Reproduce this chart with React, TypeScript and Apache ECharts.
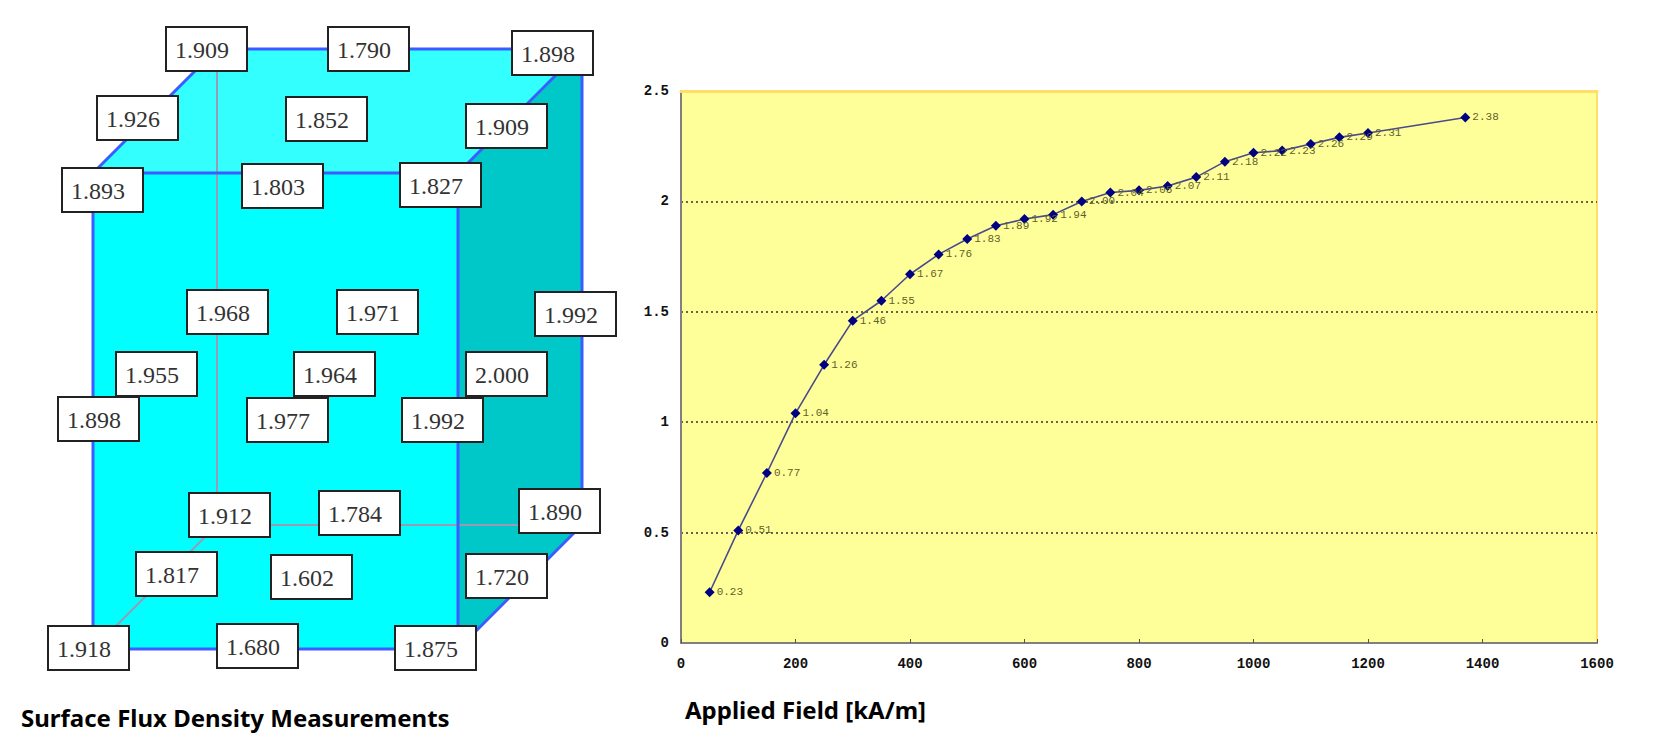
import * as echarts from 'echarts';
import { useEffect, useRef } from 'react';

// B-H curve readings
const fieldKAm = [50, 100, 150, 200, 250, 300, 350, 400, 450, 500, 550, 600, 650, 700, 750, 800, 850, 900, 950, 1000, 1050, 1100, 1150, 1200, 1370];
const fluxT = [0.23, 0.51, 0.77, 1.04, 1.26, 1.46, 1.55, 1.67, 1.76, 1.83, 1.89, 1.92, 1.94, 2.0, 2.04, 2.05, 2.07, 2.11, 2.18, 2.22, 2.23, 2.26, 2.29, 2.31, 2.38];
const xTicks = [0, 200, 400, 600, 800, 1000, 1200, 1400, 1600];
const yTicks = [0, 0.5, 1, 1.5, 2, 2.5];

// surface readings on the block (T)
const surfaceReadings = [
    '1.909', '1.790', '1.898', '1.926', '1.852', '1.909', '1.893', '1.803', '1.827',
    '1.968', '1.971', '1.992', '1.955', '1.964', '2.000', '1.898', '1.977', '1.992',
    '1.912', '1.784', '1.890', '1.817', '1.602', '1.720', '1.918', '1.680', '1.875',
];
// top-left corner of each reading box
const boxSpots = [
    [166, 27], [328, 27], [512, 31], [97, 96], [286, 97], [466, 104], [62, 168], [242, 164], [400, 163],
    [187, 290], [337, 290], [535, 292], [116, 352], [294, 352], [466, 352], [58, 397], [247, 398], [402, 398],
    [189, 493], [319, 491], [519, 489], [136, 552], [271, 555], [466, 554], [48, 626], [217, 624], [395, 626],
];

const FL = 93, FR = 458, FT = 173, FB = 649;
const DX = 124, DY = -124;

const edge = '#3d5cff';
const hidden = '#9a9ab4';

const blockGraphics = () => {
    const els: any[] = [
        { type: 'polygon', shape: { points: [[FL, FT], [FL + DX, FT + DY], [FR + DX, FT + DY], [FR, FT]] }, style: { fill: '#33ffff' } },
        { type: 'polygon', shape: { points: [[FR, FT], [FR + DX, FT + DY], [FR + DX, FB + DY], [FR, FB]] }, style: { fill: '#00c8c8' } },
        { type: 'rect', shape: { x: FL, y: FT, width: FR - FL, height: FB - FT }, style: { fill: '#00ffff' } },
        // hidden edges
        { type: 'line', shape: { x1: FL + DX, y1: FT + DY, x2: FL + DX, y2: FB + DY }, style: { stroke: hidden, lineWidth: 2 } },
        { type: 'line', shape: { x1: FL + DX, y1: FB + DY, x2: FR + DX, y2: FB + DY }, style: { stroke: hidden, lineWidth: 2 } },
        { type: 'line', shape: { x1: FL + DX, y1: FB + DY, x2: FL, y2: FB }, style: { stroke: hidden, lineWidth: 2 } },
        // visible edges
        { type: 'rect', shape: { x: FL, y: FT, width: FR - FL, height: FB - FT }, style: { fill: 'none', stroke: edge, lineWidth: 3 } },
        { type: 'polyline', shape: { points: [[FL, FT], [FL + DX, FT + DY], [FR + DX, FT + DY], [FR + DX, FB + DY], [FR, FB]] }, style: { fill: 'none', stroke: edge, lineWidth: 3 } },
        { type: 'line', shape: { x1: FR, y1: FT, x2: FR + DX, y2: FT + DY }, style: { stroke: edge, lineWidth: 3 } },
    ];
    surfaceReadings.forEach((v, i) => {
        const [x, y] = boxSpots[i];
        els.push({ type: 'rect', shape: { x, y, width: 81, height: 44 }, style: { fill: '#fff', stroke: '#222', lineWidth: 2 } });
        els.push({
            type: 'text', x: x + 9, y: y + 23,
            style: { text: v, font: '24px "Liberation Serif"', fill: '#333', align: 'left', verticalAlign: 'middle' },
        });
    });
    els.push({
        type: 'text', x: 21, y: 717,
        style: { text: 'Surface Flux Density Measurements', font: 'bold 24px "Noto Sans"', fill: '#000', verticalAlign: 'middle' },
    });
    els.push({
        type: 'text', x: 685, y: 709,
        style: { text: 'Applied Field [kA/m]', font: 'bold 24px "Noto Sans"', fill: '#000', verticalAlign: 'middle' },
    });
    return els;
};

const App = () => {
    const chartRef = useRef<HTMLDivElement>(null);

    useEffect(() => {
        if (!chartRef.current) return;
        document.body.style.margin = '0';
        const chart = echarts.init(chartRef.current, null, { renderer: 'svg' });

        const tickFont = { fontFamily: '"Liberation Mono"', fontWeight: 'bold' as const, fontSize: 14, color: '#111' };

        chart.setOption({
            animation: false,
            backgroundColor: '#fff',
            grid: {
                left: 681, top: 91, width: 916, height: 552,
                show: true, backgroundColor: '#ffff99', borderColor: '#ffdf6a', borderWidth: 2,
            },
            xAxis: [
                {
                    type: 'value', min: xTicks[0], max: xTicks[xTicks.length - 1], interval: 200,
                    axisLine: { lineStyle: { color: '#808080', width: 2 } },
                    axisTick: { inside: true, length: 4, lineStyle: { color: '#555' } },
                    axisLabel: { ...tickFont, margin: 14, formatter: (v: number) => String(v) },
                    splitLine: { show: false },
                    z: 5,
                },
                {
                    type: 'value', position: 'top', min: xTicks[0], max: xTicks[xTicks.length - 1],
                    axisLine: { show: true, lineStyle: { color: '#ffdf6a', width: 3 } },
                    axisTick: { show: false }, axisLabel: { show: false }, splitLine: { show: false },
                    z: 6,
                },
            ],
            yAxis: {
                type: 'value', min: yTicks[0], max: yTicks[yTicks.length - 1], interval: 0.5,
                axisLine: { show: true, lineStyle: { color: '#808080', width: 2 } },
                axisTick: { show: false },
                axisLabel: { ...tickFont, margin: 12, formatter: (v: number) => String(v) },
                splitLine: { lineStyle: { color: '#333', type: [2, 3], width: 1.5 } },
                z: 4,
            },
            graphic: { elements: blockGraphics() },
            series: [
                {
                    type: 'line',
                    data: fieldKAm.map((x, i) => [x, fluxT[i]]),
                    symbol: 'diamond',
                    symbolSize: 10,
                    itemStyle: { color: '#000080' },
                    lineStyle: { color: '#4a4a8c', width: 1.6 },
                    label: {
                        show: true, position: 'right', distance: 2,
                        fontFamily: '"Liberation Mono"', fontSize: 11, color: '#5f5f2a',
                        formatter: (p: any) => p.value[1].toFixed(2),
                    },
                    z: 10,
                },
            ],
        });

        const onResize = () => chart.resize();
        window.addEventListener('resize', onResize);
        return () => {
            window.removeEventListener('resize', onResize);
            chart.dispose();
        };
    }, []);

    return <div ref={chartRef} style={{ width: 1659, height: 747 }} />;
};

export default App;
